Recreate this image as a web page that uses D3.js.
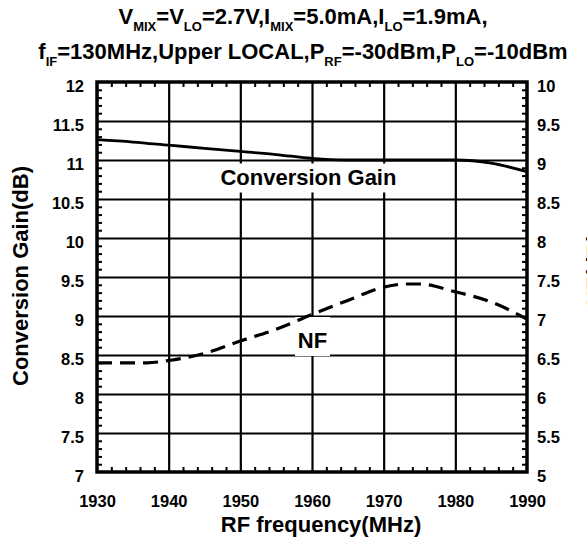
<!DOCTYPE html>
<html><head><meta charset="utf-8">
<script src="https://cdn.jsdelivr.net/npm/d3@7"></script>
<style>
body{margin:0;background:#fff;}
svg{display:block;font-family:"Liberation Sans",Arial,sans-serif;font-weight:bold;}
</style></head><body>
<svg id="chart" width="587" height="543"></svg>
<script>
// ---- data ----
const freqGain = [1930,1935,1940,1945,1950,1955,1960,1965,1970,1975,1980,1985,1990];
const gain     = [11.26,11.23,11.19,11.15,11.11,11.07,11.02,11.0,11.0,11.0,11.0,10.96,10.85];
const freqNF   = [1930,1934,1937,1940,1945,1950,1955,1960,1965,1970,1973,1975,1980,1985,1990];
const nf       = [6.40,6.40,6.40,6.43,6.52,6.68,6.83,7.02,7.20,7.37,7.41,7.41,7.31,7.18,6.96];
const xTicks    = [1930,1940,1950,1960,1970,1980,1990];
const gainTicks = [7,7.5,8,8.5,9,9.5,10,10.5,11,11.5,12];
const nfTicks   = [5,5.5,6,6.5,7,7.5,8,8.5,9,9.5,10];
const titleLine1 = [["V",0],["MIX",1],["=V",0],["LO",1],["=2.7V,I",0],["MIX",1],["=5.0mA,I",0],["LO",1],["=1.9mA,",0]];
const titleLine2 = [["f",0],["IF",1],["=130MHz,Upper LOCAL,P",0],["RF",1],["=-30dBm,P",0],["LO",1],["=-10dBm",0]];
const xTitle = "RF frequency(MHz)";
const yTitleL = "Conversion Gain(dB)";
const yTitleR = "NF(dB)";

// ---- layout ----
const L = 97, R = 527, T = 82, B = 472;
const svg = d3.select("#chart");
const x  = d3.scaleLinear().domain([1930,1990]).range([L,R]);
const yL = d3.scaleLinear().domain([7,12]).range([B,T]);
const yR = d3.scaleLinear().domain([5,10]).range([B,T]);

// grid
const grid = svg.append("g");
grid.append("g").attr("transform",`translate(0,${B})`)
  .call(d3.axisBottom(x).tickValues(xTicks.slice(1,-1)).tickSize(-(B-T)).tickFormat(""))
  .call(g=>g.select(".domain").remove())
  .selectAll("line").attr("stroke","#000").attr("stroke-width",2.2);
grid.append("g").attr("transform",`translate(${L},0)`)
  .call(d3.axisLeft(yL).tickValues(gainTicks.slice(1,-1)).tickSize(-(R-L)).tickFormat(""))
  .call(g=>g.select(".domain").remove())
  .selectAll("line").attr("stroke","#000").attr("stroke-width",2.2);

// minor ticks
const minorX = d3.range(1932,1990,2).filter(v=>!xTicks.includes(v));
const minorY = d3.range(71,120).map(v=>v/10).filter(v=>!gainTicks.includes(v));
const minorYR = d3.range(51,100).map(v=>v/10).filter(v=>!nfTicks.includes(v));
function minor(axis, tr){
  svg.append("g").attr("transform",tr).call(axis)
    .call(g=>g.select(".domain").remove())
    .selectAll("line").attr("stroke","#000").attr("stroke-width",2);
}
minor(d3.axisBottom(x).tickValues(minorX).tickSize(-5).tickFormat(""), `translate(0,${B})`);
minor(d3.axisTop(x).tickValues(minorX).tickSize(-5).tickFormat(""), `translate(0,${T})`);
minor(d3.axisLeft(yL).tickValues(minorY).tickSize(-5).tickFormat(""), `translate(${L},0)`);
minor(d3.axisRight(yR).tickValues(minorYR).tickSize(-5).tickFormat(""), `translate(${R},0)`);

// label backgrounds
const gx = x(1959.5), gy = 184.5;
svg.append("rect").attr("x",gx-95).attr("y",gy-21).attr("width",190).attr("height",29).attr("fill","#fff");
const nx = x(1960), ny = 348;
svg.append("rect").attr("x",nx-17).attr("y",ny-31).attr("width",35).attr("height",39).attr("fill","#fff");

// curves
svg.append("path").datum(freqGain.map((f,i)=>[f,gain[i]]))
  .attr("fill","none").attr("stroke","#000").attr("stroke-width",2.8)
  .attr("d", d3.line().x(d=>x(d[0])).y(d=>yL(d[1])).curve(d3.curveMonotoneX));
svg.append("path").datum(freqNF.map((f,i)=>[f,nf[i]]))
  .attr("fill","none").attr("stroke","#000").attr("stroke-width",3.2)
  .attr("stroke-dasharray","15,8")
  .attr("d", d3.line().x(d=>x(d[0])).y(d=>yR(d[1])).curve(d3.curveMonotoneX));

// in-plot labels
svg.append("text").attr("x",gx).attr("y",gy).attr("text-anchor","middle")
  .attr("font-size",22).text("Conversion Gain");
svg.append("text").attr("x",nx+0.5).attr("y",ny).attr("text-anchor","middle")
  .attr("font-size",22).text("NF");

// frame
svg.append("rect").attr("x",L).attr("y",T).attr("width",R-L).attr("height",B-T)
  .attr("fill","none").attr("stroke","#000").attr("stroke-width",3.5);

// tick labels
function labels(axis, tr, dy){
  const g = svg.append("g").attr("transform",tr).call(axis);
  g.select(".domain").remove(); g.selectAll("line").remove();
  g.selectAll("text").attr("font-size",16.5).attr("font-family","Liberation Sans, Arial, sans-serif")
    .attr("font-weight","bold").attr("fill","#000");
  if(dy) g.selectAll("text").attr("dy",dy);
}
labels(d3.axisLeft(yL).tickValues(gainTicks).tickSize(0).tickPadding(13).tickFormat(d3.format("")), `translate(${L},0)`, "0.6em");
labels(d3.axisRight(yR).tickValues(nfTicks).tickSize(0).tickPadding(10).tickFormat(d3.format("")), `translate(${R},0)`, "0.6em");
labels(d3.axisBottom(x).tickValues(xTicks).tickSize(0).tickPadding(23).tickFormat(d3.format("")), `translate(0,${B})`, null);

// axis titles
svg.append("text").attr("x",321).attr("y",531.5).attr("text-anchor","middle").attr("font-size",22).text(xTitle);
svg.append("text").attr("transform","translate(28,276) rotate(-90)").attr("text-anchor","middle").attr("font-size",22).text(yTitleL);
svg.append("text").attr("transform","translate(602,270) rotate(-90)").attr("text-anchor","middle").attr("font-size",22).text(yTitleR);

// title
function titleLine(parts, y){
  const t = svg.append("text").attr("x",303).attr("y",y).attr("text-anchor","middle").attr("font-size",22);
  let sub = false;
  parts.forEach(([s,isSub])=>{
    const ts = t.append("tspan").text(s);
    if(isSub && !sub){ ts.attr("font-size",13).attr("dy",7); sub=true; }
    else if(!isSub && sub){ ts.attr("dy",-7); sub=false; }
    else if(isSub) ts.attr("font-size",13);
  });
}
titleLine(titleLine1, 24);
titleLine(titleLine2, 59);
</script>
</body></html>
